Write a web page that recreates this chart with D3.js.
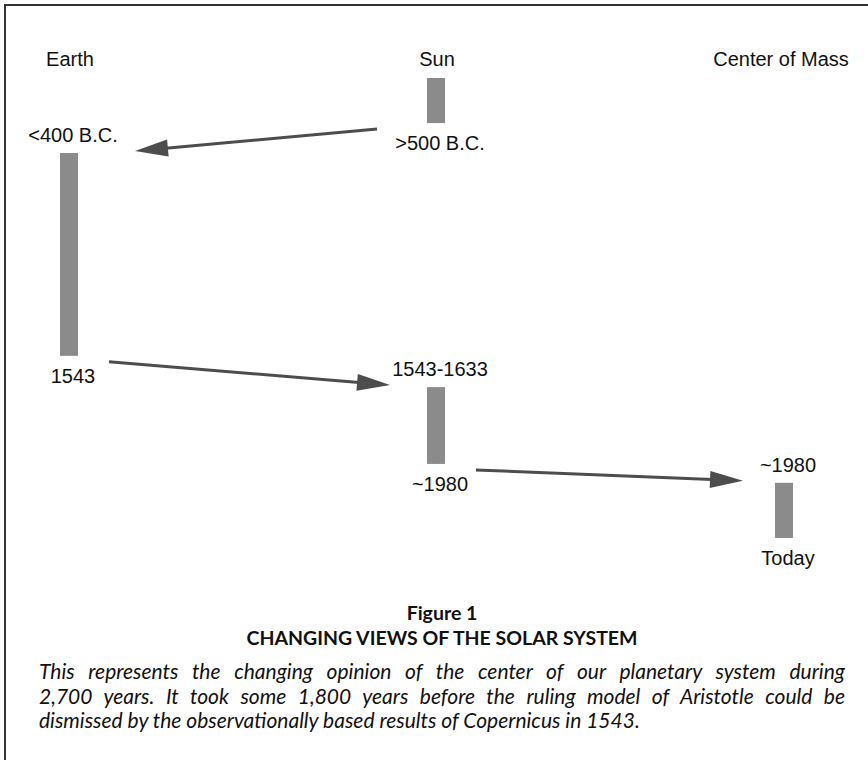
<!DOCTYPE html>
<html>
<head>
<meta charset="utf-8">
<script src="https://cdn.jsdelivr.net/npm/d3@7"></script>
<style>
  body { margin: 0; background: #fff; }
  svg { display: block; }
</style>
</head>
<body>
<div class="figure-container"></div>
<script>
// columns of the figure (what is at the center)
const columns = ['Earth', 'Sun', 'Center of Mass'];
const columnUnits = [0, 1, 2];

// each era: which column, start / end on the time axis (0 = oldest, 100 = today)
const eraColumn = ['Sun', 'Earth', 'Sun', 'Center of Mass'];
const eraStart = [0, 16.3, 67.2, 88.0];
const eraEnd = [9.8, 60.4, 83.9, 100];
const eraTopLabel = ['', '<400 B.C.', '1543-1633', '~1980'];
const eraBottomLabel = ['>500 B.C.', '1543', '~1980', 'Today'];

// caption text
const captionNumber = 'Figure 1';
const captionTitle = 'CHANGING VIEWS OF THE SOLAR SYSTEM';
const captionLines = [
  'This represents the changing opinion of the center of our planetary system during',
  '2,700 years. It took some 1,800 years before the ruling model of Aristotle could be',
  'dismissed by the observationally based results of Copernicus in 1543.'
];

// arrow gaps from the column center (layout only)
const arrowStartGap = [59, 40, 40];
const arrowTipGap = [66, 46, 41];

function setupCanvas() {
  const svg_width = 868;
  const svg_height = 760;
  const svg = d3.select('.figure-container').append('svg')
    .attr('width', svg_width).attr('height', svg_height);

  // frame (right and bottom side run off the page)
  svg.append('rect')
    .attr('x', 5).attr('y', 5)
    .attr('width', 900).attr('height', 800)
    .attr('fill', 'none').attr('stroke', '#333').attr('stroke-width', 2);

  // x: piecewise linear over column index, y: time axis
  const xScale = d3.scaleLinear().domain(columnUnits).range([69, 436, 784]);
  const colX = name => xScale(columnUnits[columns.indexOf(name)]);
  const yScale = d3.scaleLinear().domain([0, 100]).range([78, 538]);

  const font = '"Liberation Sans", Arial, sans-serif';

  // column headers
  svg.append('g').selectAll('text')
    .data(columns)
    .join('text')
    .attr('x', (d, i) => colX(d) + (i === 2 ? -3 : 1))
    .attr('y', 66)
    .attr('text-anchor', 'middle')
    .style('font-family', font).style('font-size', '20px').style('fill', '#111')
    .text(d => d);

  const eras = eraColumn.map((c, i) => ({
    column: c, y0: eraStart[i], y1: eraEnd[i],
    top: eraTopLabel[i], bottom: eraBottomLabel[i]
  }));

  // bars
  const barW = 18;
  svg.append('g').selectAll('rect')
    .data(eras)
    .join('rect')
    .attr('x', d => colX(d.column) - barW / 2)
    .attr('y', d => yScale(d.y0))
    .attr('width', barW)
    .attr('height', d => yScale(d.y1) - yScale(d.y0))
    .style('fill', '#8b8b8b');

  // labels above / below bars
  const labels = svg.append('g')
    .style('font-family', font).style('font-size', '20px').style('fill', '#111')
    .attr('text-anchor', 'middle');
  labels.selectAll('.top')
    .data(eras.filter(d => d.top))
    .join('text').attr('class', 'top')
    .attr('x', d => colX(d.column) + 4)
    .attr('y', d => yScale(d.y0) - 11)
    .text(d => d.top);
  labels.selectAll('.bottom')
    .data(eras)
    .join('text').attr('class', 'bottom')
    .attr('x', d => colX(d.column) + 4)
    .attr('y', d => yScale(d.y1) + 27)
    .text(d => d.bottom);

  // arrows: end of one era -> start of the next
  const arrows = d3.pairs(eras).map(([a, b], i) => {
    const ax = colX(a.column), bx = colX(b.column);
    const dir = bx > ax ? 1 : -1;
    return {
      x1: ax + dir * arrowStartGap[i], y1: yScale(a.y1) + 6,
      x2: bx - dir * arrowTipGap[i], y2: yScale(b.y0) - 2
    };
  });
  const headLen = 33, headHalf = 8.5;
  const arrowG = svg.append('g');
  arrows.forEach(a => {
    const ang = Math.atan2(a.y2 - a.y1, a.x2 - a.x1);
    const bxp = a.x2 - headLen * Math.cos(ang);
    const byp = a.y2 - headLen * Math.sin(ang);
    arrowG.append('line')
      .attr('x1', a.x1).attr('y1', a.y1)
      .attr('x2', bxp + 2 * Math.cos(ang)).attr('y2', byp + 2 * Math.sin(ang))
      .attr('stroke', '#4d4d4d').attr('stroke-width', 3);
    const px = -Math.sin(ang) * headHalf, py = Math.cos(ang) * headHalf;
    arrowG.append('path')
      .attr('d', `M${a.x2},${a.y2}L${bxp + px},${byp + py}L${bxp - px},${byp - py}Z`)
      .attr('fill', '#4d4d4d');
  });

  // caption
  const capFont = 'Lato, "Open Sans", sans-serif';
  svg.append('text')
    .attr('x', 442).attr('y', 620).attr('text-anchor', 'middle')
    .style('font-family', capFont).style('font-weight', 'bold')
    .style('font-size', '19.5px').style('fill', '#111')
    .text(captionNumber);
  svg.append('text')
    .attr('x', 442).attr('y', 645).attr('text-anchor', 'middle')
    .style('font-family', capFont).style('font-weight', 'bold')
    .style('font-size', '19.5px').style('fill', '#111')
    .text(captionTitle);
  // justified paragraph: stretch word spacing on all lines but the last
  const lineW = 806;
  svg.append('g').selectAll('text')
    .data(captionLines)
    .join('text')
    .attr('x', 39)
    .attr('y', (d, i) => 679 + i * 24.5)
    .style('font-family', capFont).style('font-style', 'italic')
    .style('font-size', '21px').style('fill', '#111')
    .text(d => d)
    .each(function (d, i) {
      if (i === captionLines.length - 1) return;
      const w = this.getComputedTextLength();
      const gaps = d.split(' ').length - 1;
      d3.select(this).style('word-spacing', ((lineW - w) / gaps) + 'px');
    });
}

setupCanvas();
</script>
</body>
</html>
